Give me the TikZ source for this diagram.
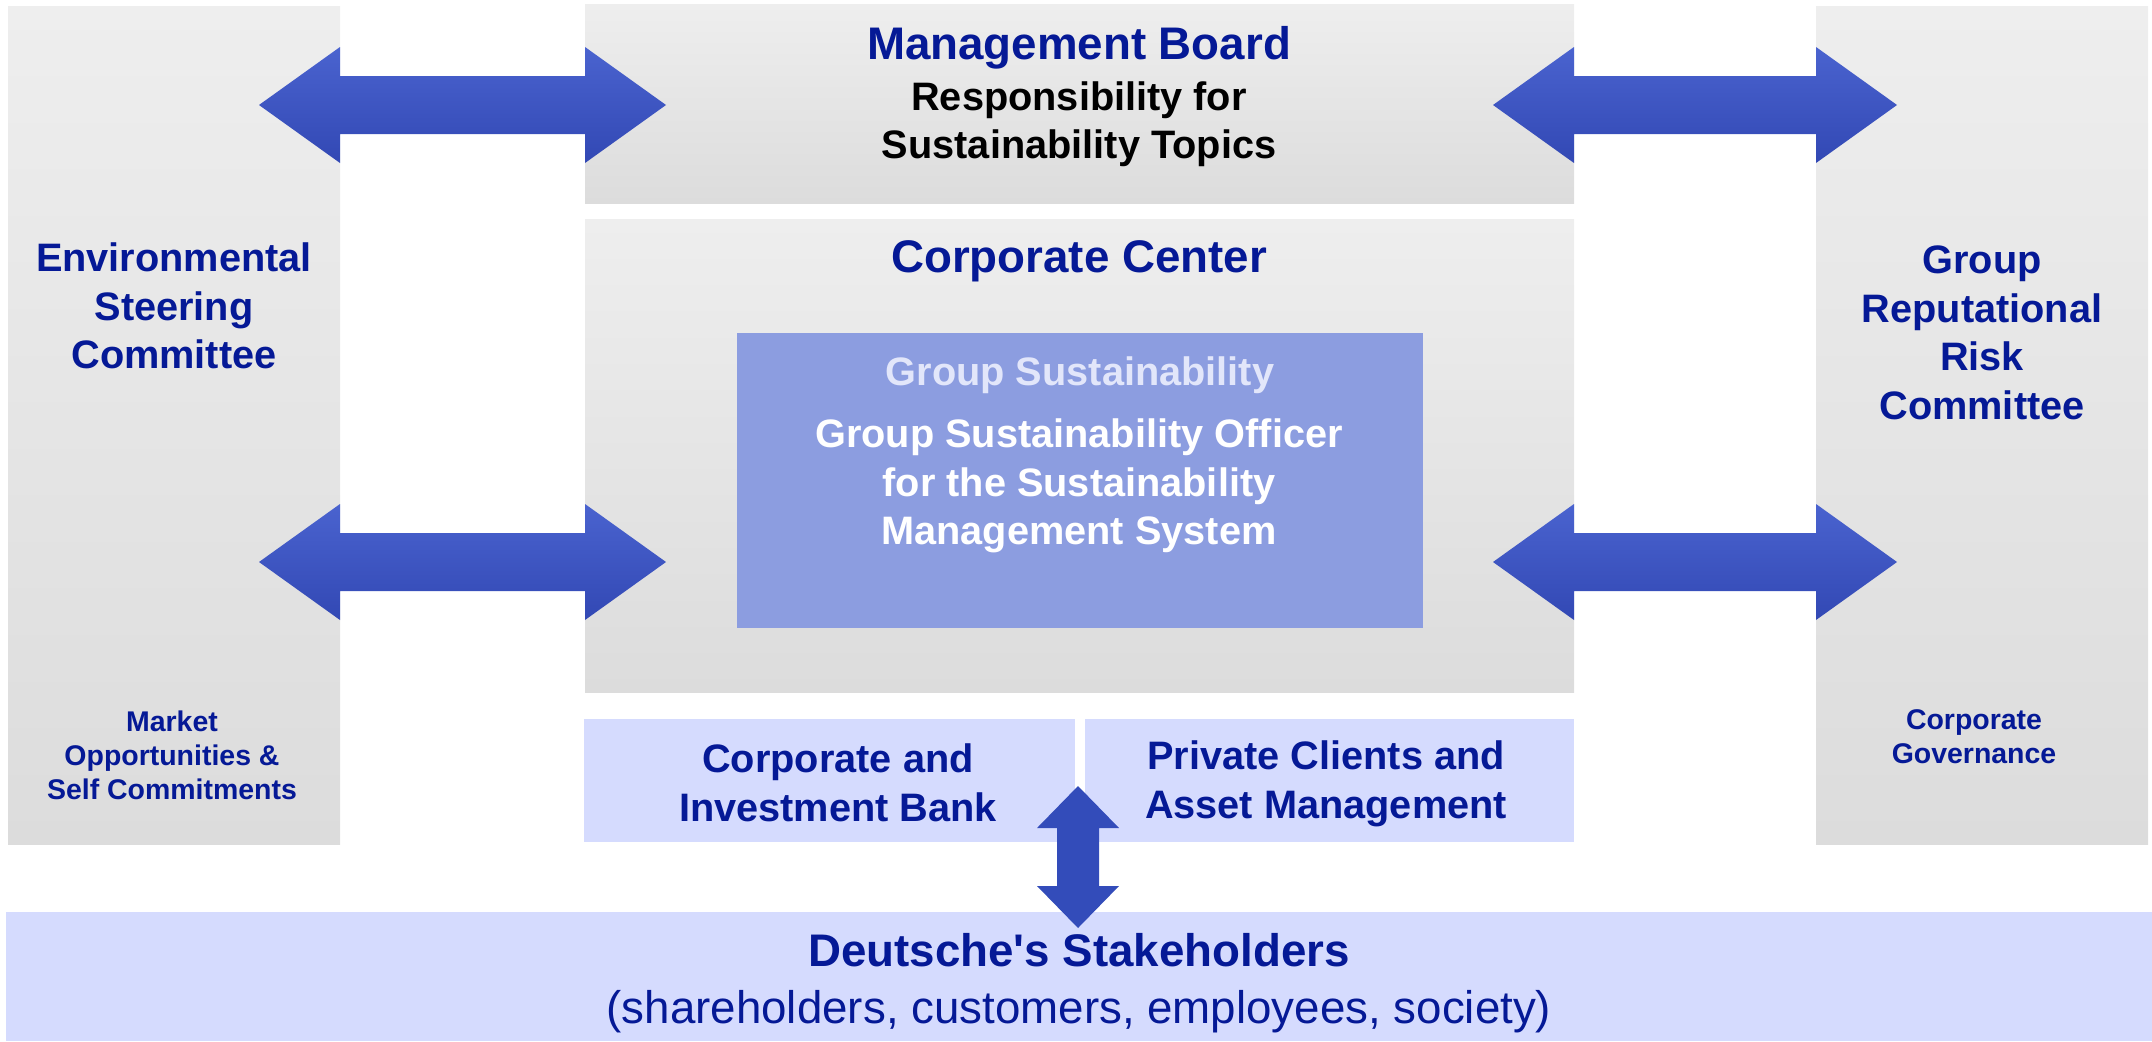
\documentclass[tikz,border=0pt]{standalone}
\usepackage{fontspec}
\setmainfont{Liberation Sans}
\usetikzlibrary{calc}
\definecolor{navy}{RGB}{5,25,150}
\definecolor{gtop}{RGB}{238,238,238}
\definecolor{gbot}{RGB}{220,220,220}
\definecolor{paleblue}{RGB}{213,219,254}
\definecolor{gsblue}{RGB}{140,157,224}
\definecolor{gslight}{RGB}{226,230,250}
\definecolor{atop}{RGB}{74,99,207}
\definecolor{abot}{RGB}{50,72,180}
\definecolor{vblue}{RGB}{51,76,186}
% double arrow between two box edges, heads reach into the boxes
\newcommand{\bigarrow}[2]{%
  \shade[top color=atop, bottom color=abot] ($(#1)+(-81,0)$) -- ++(81,-58) -- ++(0,29)
    -- ($(#2)+(0,-29)$) -- ++(0,-29) -- ++(81,58) -- ++(-81,58) -- ++(0,-29)
    -- ($(#1)+(0,29)$) -- ++(0,29) -- cycle;}
\begin{document}
\begin{tikzpicture}[x=0.1mm, y=-0.1mm,
  box/.style={inner sep=0, outer sep=0, anchor=north west},
  greybox/.style={box, top color=gtop, bottom color=gbot},
  bluebox/.style={box, fill=paleblue},
  title/.style={font=\fontsize{13}{15.6}\selectfont\bfseries, text=navy, align=center},
  body/.style={font=\fontsize{11.3}{13.8}\selectfont\bfseries, text=navy, align=center},
  small/.style={font=\fontsize{8.1}{9.7}\selectfont\bfseries, text=navy, align=center}]
\useasboundingbox (0,0) rectangle (2152,1041);
% boxes
\node[greybox, minimum width=33.2mm, minimum height=83.8mm] (env) at (8,6){};
\node[greybox, minimum width=33.2mm, minimum height=83.8mm] (grr) at (1816,6){};
\node[greybox, minimum width=98.9mm, minimum height=19.9mm] (mb) at (585,4){};
\node[greybox, minimum width=98.9mm, minimum height=47.3mm] (cc) at (585,219){};
\node[box, fill=gsblue, minimum width=68.6mm, minimum height=29.5mm] (gs) at (737,333){};
\node[bluebox, minimum width=49.1mm, minimum height=12.3mm] (cib) at (584,719){};
\node[bluebox, minimum width=48.9mm, minimum height=12.3mm] (pcam) at (1085,719){};
\node[bluebox, minimum width=214.6mm, minimum height=12.9mm] (sh) at (6,912){};
% texts
\node[title] (mbt) at (1079,48) {Management Board};
\node[body, text=black] (mbs) at (1079,124) {Responsibility for\\Sustainability Topics};
\node[title] (cct) at (1079,261) {Corporate Center};
\node[body, text=gslight] (gst) at (1080,375) {Group Sustainability};
\node[body, text=white] (gso) at (1079,486) {Group Sustainability Officer\\for the Sustainability\\Management System};
\node[body] (envt) at (174,306) {Environmental\\Steering\\Committee};
\node[body] (grrt) at (1982,333) {Group\\Reputational\\Risk\\Committee};
\node[small] (mkt) at (172,755) {Market\\Opportunities \&\\Self Commitments};
\node[small] (cgt) at (1974,737) {Corporate\\Governance};
\node[body] (cibt) at (838,783) {Corporate and\\Investment Bank};
\node[body] (pcamt) at (1326,784) {Private Clients and\\Asset Management};
\node[title] (sht) at (1079,950) {Deutsche\textquotesingle s Stakeholders};
\node[font=\fontsize{13}{15.6}\selectfont, text=navy] (shs) at (1079,1012) {(shareholders, customers, employees, society)};
% arrows
\coordinate (ya) at (0,105);
\coordinate (yb) at (0,562);
\bigarrow{env.east |- ya}{mb.west |- ya}
\bigarrow{mb.east |- ya}{grr.west |- ya}
\bigarrow{env.east |- yb}{cc.west |- yb}
\bigarrow{cc.east |- yb}{grr.west |- yb}
\coordinate (vt) at (1078,786);
\coordinate (vb) at (1078,928);
\fill[vblue] (vt) -- ++(41,42) -- ++(-20,0) -- ($(vb)+(21,-42)$) -- ++(20,0) -- (vb)
  -- ++(-41,-42) -- ++(20,0) -- ($(vt)+(-21,42)$) -- ++(-20,0) -- cycle;
\end{tikzpicture}
\end{document}
